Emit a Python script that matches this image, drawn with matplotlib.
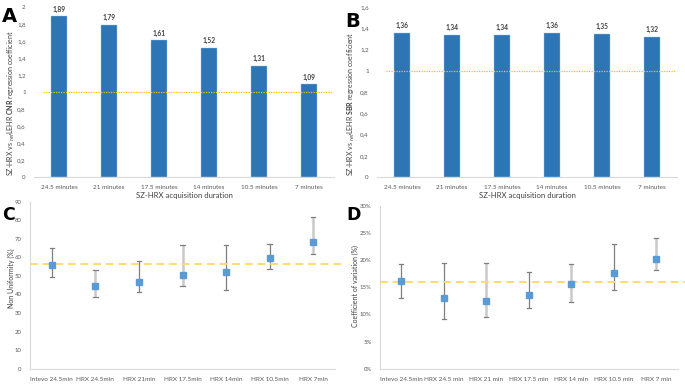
import matplotlib
matplotlib.use("Agg")
import matplotlib.pyplot as plt
import numpy as np

plt.rcParams['font.family'] = ['Lato', 'DejaVu Sans']
plt.rcParams['mathtext.fontset'] = 'custom'
plt.rcParams['mathtext.rm'] = 'Lato'
plt.rcParams['mathtext.bf'] = 'Lato:bold'

# ---- data ----
durations = ["24.5 minutes", "21 minutes", "17.5 minutes", "14 minutes", "10.5 minutes", "7 minutes"]
cnr_coef = [1.89, 1.79, 1.61, 1.52, 1.31, 1.09]
sbr_coef = [1.36, 1.34, 1.34, 1.36, 1.35, 1.32]
ref_coef = 1.0

c_labels = ["Intevo 24.5min", "HRX 24.5min", "HRX 21min", "HRX 17.5min", "HRX 14min", "HRX 10.5min", "HRX 7min"]
nu_mean = [55.7, 44.7, 46.5, 50.4, 52.2, 59.6, 68.4]
nu_low = [49.4, 38.8, 41.5, 44.7, 42.5, 54.0, 62.0]
nu_high = [64.8, 53.0, 58.0, 66.6, 66.8, 67.0, 81.5]
nu_ref = 56.3

d_labels = ["Intevo 24.5min", "HRX 24.5 min", "HRX 21 min", "HRX 17.5 min", "HRX 14 min", "HRX 10.5 min", "HRX 7 min"]
cv_mean = [16.1, 13.0, 12.5, 13.5, 15.6, 17.6, 20.2]
cv_low = [13.1, 9.2, 9.5, 11.1, 12.3, 14.5, 18.1]
cv_high = [19.2, 19.5, 19.5, 17.85, 19.3, 22.9, 24.0]
cv_ref = 16.0

c_err_dark = [True, False, True, False, True, True, False]
d_err_dark = [True, True, False, True, False, True, False]

W, H = 685, 385
fig = plt.figure(figsize=(W / 100, H / 100), dpi=100)
fig.patch.set_facecolor('white')

def ax_px(l, r, t, b):
    return fig.add_axes([l / W, 1 - b / H, (r - l) / W, (b - t) / H])

TICK_C = '#595959'
SPINE_C = '#d9d9d9'
BAR_C = '#2e75b6'
MARK_C = '#5b9bd5'
REF_C = '#ffc000'

def fmt(v):
    s = ('%g' % round(v, 2)).replace('.', ',')
    return s

def bar_panel(ax, vals, ymax, step, ylabel_metric, lab_x, lab_y):
    x = np.arange(len(durations))
    ax.bar(x, vals, width=0.32, color=BAR_C, edgecolor='#9dc3e6', linewidth=0.3, zorder=2)
    for xi, v in zip(x, vals):
        ax.text(xi, v + ymax * 0.02, fmt(v), ha='center', va='bottom', fontsize=4.8,
                color='#404040', fontweight='bold')
    ax.axhline(ref_coef, xmin=0.03, xmax=0.995, color=REF_C, linestyle=(0, (1, 1)), linewidth=0.9, zorder=3)
    ax.set_xlim(-0.5, len(durations) - 0.5)
    ax.set_ylim(0, ymax)
    yt = np.arange(0, ymax + 1e-9, step)
    ax.set_yticks(yt)
    ax.set_yticklabels([fmt(v) for v in yt], fontsize=4.5, color=TICK_C)
    ax.set_xticks(x)
    ax.set_xticklabels(durations, fontsize=4.6, color=TICK_C)
    ax.tick_params(axis='both', length=0, pad=6)
    for s in ['top', 'right', 'left']:
        ax.spines[s].set_visible(False)
    ax.spines['bottom'].set_color(SPINE_C)
    ax.spines['bottom'].set_linewidth(0.8)
    ax.set_xlabel('SZ-HRX acquisition duration', fontsize=5.6, color='#404040', labelpad=1)
    ax.set_ylabel(r'SZ-HRX vs $_{ref}$LEHR $\mathbf{' + ylabel_metric + r'}$ regression coefficient',
                  fontsize=5.0, color='#404040')
    ax.yaxis.set_label_coords(lab_x, lab_y)

axA = ax_px(34, 334, 7, 177)
bar_panel(axA, cnr_coef, 2.0, 0.2, 'CNR', -0.057, 0.435)
axB = ax_px(377, 677, 7, 177)
bar_panel(axB, sbr_coef, 1.6, 0.2, 'SBR', -0.067, 0.43)

def err_panel(ax, labels, mean, low, high, dark, ref, ymax, step, yfmt, ylabel, lab_x, lab_y):
    x = np.arange(len(labels))
    for xi, m, lo, hi, dk in zip(x, mean, low, high, dark):
        col = '#7f7f7f' if dk else '#c9c9c9'
        lw = 0.9 if dk else 1.8
        ax.plot([xi, xi], [lo, hi], color=col, linewidth=lw, zorder=2, solid_capstyle='butt')
        for yy in (lo, hi):
            ax.plot([xi - 0.05, xi + 0.05], [yy, yy], color='#7f7f7f', linewidth=0.9, zorder=2)
    ax.plot(x, mean, linestyle='none', marker='s', markersize=4.2, color=MARK_C,
            markeredgecolor=MARK_C, zorder=4)
    ax.axhline(ref, xmin=0, xmax=1.03, color='#ffd966', linestyle=(0, (4, 2.5)), linewidth=1.4,
               zorder=3, clip_on=False, alpha=0.95)
    ax.set_xlim(-0.5, len(labels) - 0.5)
    ax.set_ylim(0, ymax)
    yt = np.arange(0, ymax + 1e-9, step)
    ax.set_yticks(yt)
    ax.set_yticklabels([yfmt(v) for v in yt], fontsize=4.3, color=TICK_C)
    ax.set_xticks(x)
    ax.set_xticklabels(labels, fontsize=4.6, color=TICK_C)
    ax.tick_params(axis='both', length=0, pad=6)
    for s in ['top', 'right']:
        ax.spines[s].set_visible(False)
    for s in ['left', 'bottom']:
        ax.spines[s].set_color(SPINE_C)
        ax.spines[s].set_linewidth(0.8)
    ax.set_ylabel(ylabel, fontsize=5.0, color='#404040')
    ax.yaxis.set_label_coords(lab_x, lab_y)

axC = ax_px(30, 335, 201.7, 368.7)
err_panel(axC, c_labels, nu_mean, nu_low, nu_high, c_err_dark, nu_ref, 90, 10,
          lambda v: '%d' % v, 'Non Uniformity (%)', -0.049, 0.54)
axD = ax_px(380, 677.5, 205.7, 368.7)
err_panel(axD, d_labels, cv_mean, cv_low, cv_high, d_err_dark, cv_ref, 30, 5,
          lambda v: '%d%%' % v, 'Coefficient of variation (%)', -0.071, 0.51)

for letter, px, py, fs in [('A', 2, 22, 14), ('B', 345, 27, 14), ('C', 2, 220, 12.5), ('D', 346, 220, 12.5)]:
    fig.text(px / W, 1 - py / H, letter, fontsize=fs, fontweight='bold', color='black',
             family='DejaVu Sans', ha='left', va='baseline')

fig.savefig('out.png', dpi=100, facecolor='white')
